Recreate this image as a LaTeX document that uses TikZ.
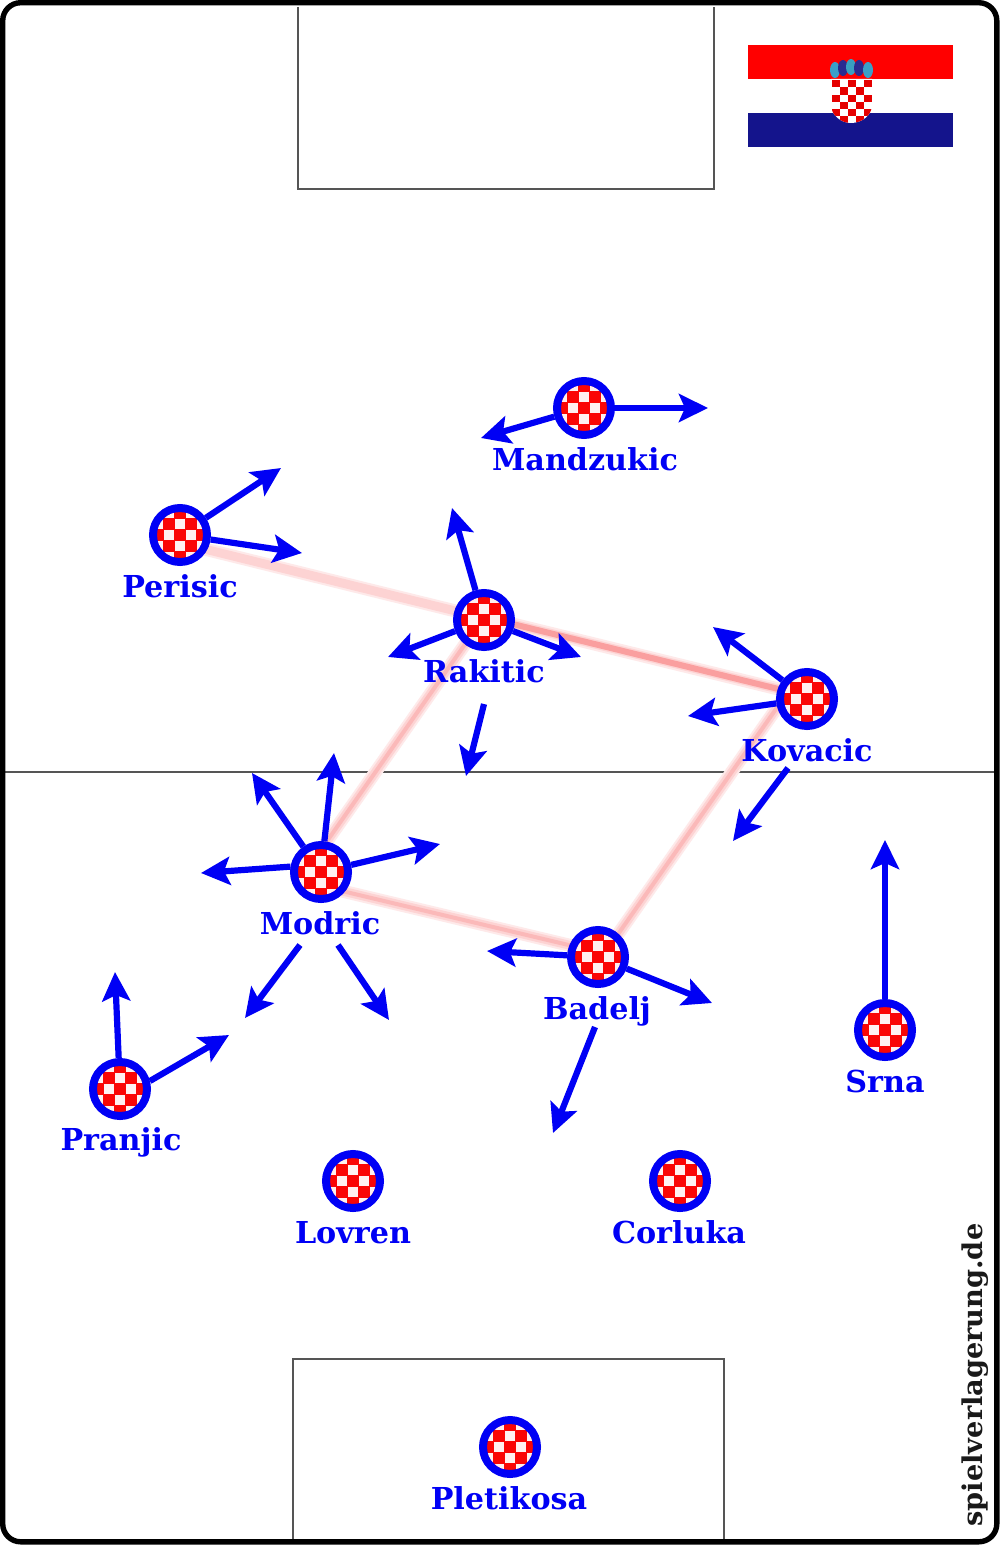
\documentclass[tikz,border=0pt]{standalone}
\usepackage{fontspec}
\setmainfont{DejaVu Serif}
\usetikzlibrary{arrows.meta}
\definecolor{pblue}{HTML}{0000F5}
\definecolor{pred}{HTML}{FA0505}
\definecolor{flagblue}{HTML}{14148C}
\definecolor{pinka}{HTML}{FEE9E9}
\definecolor{pinkb}{HTML}{FDD3D3}
\definecolor{pinkc}{HTML}{FBB9B9}
\definecolor{pinkd}{HTML}{FA9F9F}
\definecolor{fieldline}{HTML}{555555}
\tikzset{
  x=0.5pt,y=-0.5pt,
  fieldmark/.style={draw=fieldline,line width=0.75pt},
  playerdisc/.style={circle,draw=pblue,line width=4pt,fill=pred,minimum size=27pt,inner sep=0pt},
  playername/.style={text=pblue,font=\bfseries\fontsize{15.1}{16}\selectfont,inner sep=0pt,anchor=base},
  run/.style={draw=pblue,line width=3.1pt,-{Stealth[length=14.5pt,width=14pt,inset=3pt]}},
  linkwide/.style={draw=pinka,line width=6.5pt},
  linkmid/.style={draw=pinkb,line width=4.4pt},
  linkcore/.style={draw=pinkc,line width=2pt},
  linkhot/.style={draw=pinkd,line width=3pt},
}
\newcommand{\playerat}[3]{%
  \node[playerdisc] (#1) at (#2,#3) {};
  \begin{scope}
    \clip (#2,#3) circle (23);
    \foreach \i in {-2,...,2}{\foreach \j in {-2,...,2}{
      \pgfmathtruncatemacro{\chk}{mod(abs(\i+\j),2)}%
      \ifnum\chk=1
        \fill[white!94!red] ({#2+\i*11-5},{#3+\j*11-5}) rectangle ++(10,10);
      \fi
    }}
  \end{scope}}
\begin{document}
\begin{tikzpicture}
\useasboundingbox (0,0) rectangle (1000,1546);
\fill[white] (0,0) rectangle (1000,1546);
% field markings
\draw[fieldmark] (298,7) -- (298,189) -- (714,189) -- (714,7);
\draw[fieldmark] (293,1540) -- (293,1359) -- (724,1359) -- (724,1540);
\coordinate (hl) at (5,772); \coordinate (hr) at (995,772);
\draw[fieldmark] (hl) -- (hr);
% flag
\fill[red] (748,45) rectangle (953,79);
\fill[flagblue] (748,113) rectangle (953,147);
\fill[white] (831,79) -- (872,79) -- (872,105) .. controls (872,115) and (862,123) .. (851,123) .. controls (841,123) and (831,115) .. (831,105) -- cycle;
\begin{scope}
  \clip (831,79) -- (872,79) -- (872,105) .. controls (872,115) and (862,123) .. (851,123) .. controls (841,123) and (831,115) .. (831,105) -- cycle;
  \foreach \i/\j in {0/0,2/0,4/0,1/1,3/1,0/2,2/2,4/2,1/3,3/3,0/4,2/4,4/4,1/5,3/5,2/6}{
    \fill[red!90!black] ({831.5+\i*8},{80+\j*7.3}) rectangle ++(8,7.3);}
\end{scope}
\foreach \cx/\cy/\c in {835/70/3A9FC8,843/68/2A2A90,851/67/3AA0C0,859/68/2A2A90,868/70/3A9FC8}{
  \definecolor{tmpc}{HTML}{\c}
  \fill[tmpc] (\cx,\cy) ellipse (5 and 8);
}
% passing links
\coordinate (pA) at (180,543);
\coordinate (pB) at (484,618);
\coordinate (pB2) at (484,617);
\coordinate (pC) at (807,696);
\coordinate (pB3) at (482,620);
\coordinate (pD3) at (311,864);
\coordinate (pC4) at (783,699);
\coordinate (pE4) at (602,957);
\coordinate (pD5) at (321,886);
\coordinate (pE5) at (598,952);
\draw[linkwide] (pA) -- (pB);
\draw[linkmid] (pA) -- (pB);
\draw[linkwide] (pB2) -- (pC);
\draw[linkmid] (pB2) -- (pC);
\draw[linkhot] (pB2) -- (pC);
\draw[linkwide] (pB3) -- (pD3);
\draw[linkmid] (pB3) -- (pD3);
\draw[linkcore] (pB3) -- (pD3);
\draw[linkwide] (pC4) -- (pE4);
\draw[linkmid] (pC4) -- (pE4);
\draw[linkcore] (pC4) -- (pE4);
\draw[linkwide] (pD5) -- (pE5);
\draw[linkmid] (pD5) -- (pE5);
\draw[linkcore] (pD5) -- (pE5);
% players
\playerat{mand}{584}{408}
\playerat{peri}{180}{535}
\playerat{raki}{484}{620}
\playerat{kova}{807}{699}
\playerat{modr}{321}{872}
\playerat{bade}{598}{957}
\playerat{srna}{885}{1030}
\playerat{pran}{120}{1089}
\playerat{lovr}{353}{1181}
\playerat{corl}{680}{1181}
\playerat{plet}{510}{1447}
% names
\node[playername] (nmand) at (585,470) {Mandzukic};
\node[playername] (nperi) at (180,597) {Perisic};
\node[playername] (nraki) at (484,682) {Rakitic};
\node[playername] (nkova) at (807,761) {Kovacic};
\node[playername] (nmodr) at (320,934) {Modric};
\node[playername] (nbade) at (597,1019) {Badelj};
\node[playername] (nsrna) at (885,1092) {Srna};
\node[playername] (npran) at (121,1150) {Pranjic};
\node[playername] (nlovr) at (353,1243) {Lovren};
\node[playername] (ncorl) at (679,1243) {Corluka};
\node[playername] (nplet) at (509,1509) {Pletikosa};
% run targets
\coordinate (a1) at (708,408);
\coordinate (a2) at (481,438);
\coordinate (a3) at (281,468);
\coordinate (a4) at (302,553);
\coordinate (a5) at (452,508);
\coordinate (a6) at (388,657);
\coordinate (a7) at (581,657);
\coordinate (a8) at (713,627);
\coordinate (a9) at (688,716);
\coordinate (b1) at (334,753);
\coordinate (b2) at (252,773);
\coordinate (b3) at (201,873);
\coordinate (b4) at (440,844);
\coordinate (b5) at (487,951);
\coordinate (b6) at (712,1003);
\coordinate (b7) at (885,840);
\coordinate (b8) at (115,972);
\coordinate (b9) at (229,1035);
% detached runs
\coordinate (s1) at (484,704); \coordinate (e1) at (466,776);
\coordinate (s2) at (788,768); \coordinate (e2) at (733,841);
\coordinate (s3) at (300,945); \coordinate (e3) at (245,1018);
\coordinate (s4) at (338,945); \coordinate (e4) at (389,1020);
\coordinate (s5) at (595,1027); \coordinate (e5) at (553,1133);
\foreach \f/\t in {mand/a1,mand/a2,peri/a3,peri/a4,raki/a5,raki/a6,raki/a7,kova/a8,kova/a9,modr/b1,modr/b2,modr.170/b3,modr/b4,bade/b5,bade/b6,srna/b7,pran/b8,pran.15/b9,s1/e1,s2/e2,s3/e3,s4/e4,s5/e5}{
  \draw[run] (\f) -- (\t);
}
% frame
\draw[black,line width=2.7pt,rounded corners=9pt] (2.7,2.7) rectangle (996.8,1541.8);
\node[rotate=90,font=\bfseries\fontsize{13.6}{15}\selectfont,text=black!90,inner sep=0pt] (wm) at (975,1375) {spielverlagerung.de};
\end{tikzpicture}
\end{document}
